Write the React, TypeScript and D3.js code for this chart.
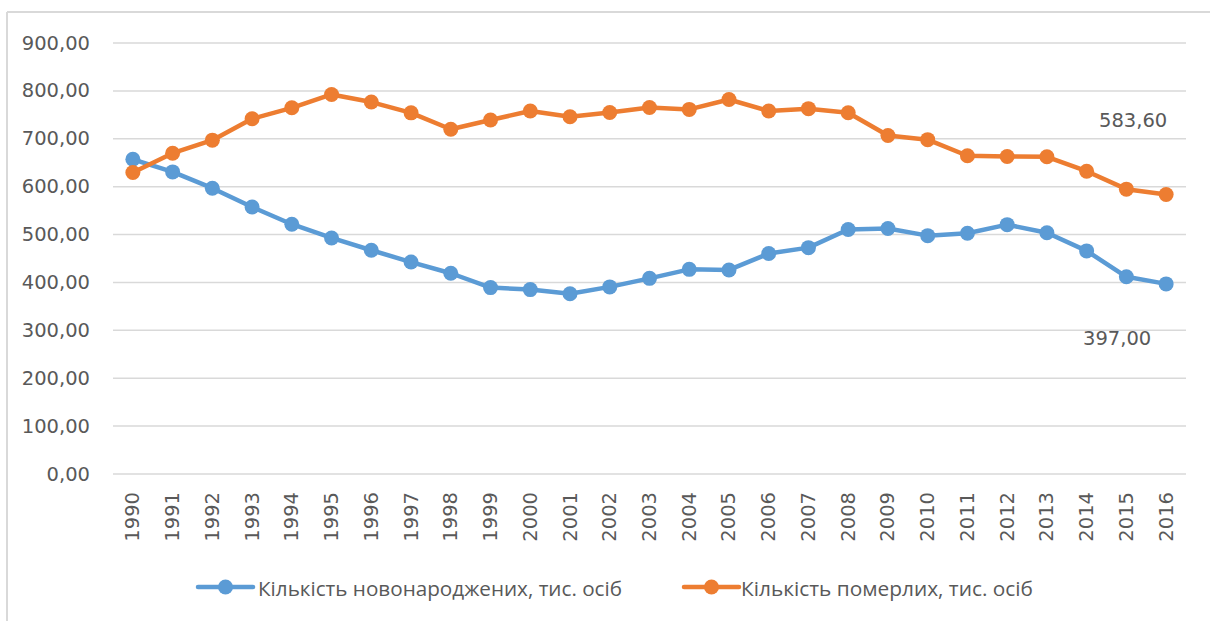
import React, { useEffect } from "react";
import * as d3 from "d3";

const years: string[] = [
  "1990","1991","1992","1993","1994","1995","1996","1997","1998","1999",
  "2000","2001","2002","2003","2004","2005","2006","2007","2008","2009",
  "2010","2011","2012","2013","2014","2015","2016",
];

const births: number[] = [
  657.2, 630.8, 596.8, 557.5, 521.6, 492.9, 467.2, 442.6, 419.2, 389.2,
  385.1, 376.5, 390.7, 408.6, 427.3, 426.1, 460.4, 472.7, 510.6, 512.5,
  497.7, 502.6, 520.7, 503.7, 465.9, 411.8, 397.0,
];

const deaths: number[] = [
  629.6, 669.9, 697.1, 741.7, 764.7, 792.6, 776.7, 754.2, 719.9, 739.2,
  758.1, 745.9, 754.9, 765.4, 761.3, 782.0, 758.1, 762.9, 754.5, 706.7,
  698.2, 664.6, 663.1, 662.4, 632.3, 594.8, 583.6,
];

const yTicks: number[] = [0, 100, 200, 300, 400, 500, 600, 700, 800, 900];

const seriesNames: string[] = [
  "Кількість новонароджених, тис. осіб",
  "Кількість померлих, тис. осіб",
];

const BLUE = "#5B9BD5";
const ORANGE = "#ED7D31";
const TEXT = "#595959";
const GRID = "#D9D9D9";

const fmt = (v: number) => v.toFixed(2).replace(".", ",");

export default function App() {
  useEffect(() => {
    document.body.style.margin = "0";
  }, []);

  const W = 1210;
  const H = 621;
  const x = d3.scaleBand<string>().domain(years).range([113, 1186]);
  const y = d3.scaleLinear().domain([0, 900]).range([474, 43]);
  const cx = (yr: string) => (x(yr) as number) + x.bandwidth() / 2;

  const line = d3
    .line<number>()
    .x((_, i) => cx(years[i]))
    .y((d) => y(d));

  const series = [
    { name: seriesNames[0], values: births, color: BLUE },
    { name: seriesNames[1], values: deaths, color: ORANGE },
  ];

  const last = years[years.length - 1];
  const numFont = "'DejaVu Sans', sans-serif";

  const legend = [
    { x0: 198, x1: 253, tx: 258, tw: 364 },
    { x0: 684, x1: 739, tx: 741, tw: 292 },
  ];

  return (
    <svg
      width={W}
      height={H}
      style={{ position: "absolute", left: 0, top: 0, background: "#fff" }}
    >
      <rect x={0} y={0} width={W} height={H} fill="#fff" />
      {/* chart area border (top & left visible) */}
      <line x1={7} x2={W} y1={12} y2={12} stroke={GRID} strokeWidth={2} />
      <line x1={7} x2={7} y1={12} y2={H} stroke={GRID} strokeWidth={2} />

      {/* gridlines and y labels */}
      {yTicks.map((t) => (
        <g key={t}>
          <line
            x1={113}
            x2={1186}
            y1={y(t)}
            y2={y(t)}
            stroke={GRID}
            strokeWidth={1.5}
          />
          <text
            x={90}
            y={y(t)}
            textAnchor="end"
            dominantBaseline="central"
            fontFamily={numFont}
            fontSize={19.5}
            fill={TEXT}
          >
            {fmt(t)}
          </text>
        </g>
      ))}

      {/* x labels */}
      {years.map((yr) => (
        <text
          key={yr}
          transform={`translate(${cx(yr)},492) rotate(-90)`}
          textAnchor="end"
          dominantBaseline="central"
          fontFamily={numFont}
          fontSize={19.5}
          fill={TEXT}
        >
          {yr}
        </text>
      ))}

      {/* series */}
      {series.map((s) => (
        <g key={s.name}>
          <path
            d={line(s.values) || ""}
            fill="none"
            stroke={s.color}
            strokeWidth={4.5}
            strokeLinejoin="round"
          />
          {s.values.map((v, i) => (
            <circle key={i} cx={cx(years[i])} cy={y(v)} r={7.5} fill={s.color} />
          ))}
        </g>
      ))}

      {/* data labels */}
      <text
        x={cx(last) - 33}
        y={y(deaths[deaths.length - 1]) - 74}
        textAnchor="middle"
        dominantBaseline="central"
        fontFamily={numFont}
        fontSize={19.5}
        fill={TEXT}
      >
        {fmt(deaths[deaths.length - 1])}
      </text>
      <text
        x={cx(last) - 49}
        y={y(births[births.length - 1]) + 55}
        textAnchor="middle"
        dominantBaseline="central"
        fontFamily={numFont}
        fontSize={19.5}
        fill={TEXT}
      >
        {fmt(births[births.length - 1])}
      </text>

      {/* legend */}
      {series.map((s, i) => {
        const L = legend[i];
        return (
          <g key={s.name}>
            <line
              x1={L.x0}
              x2={L.x1}
              y1={587}
              y2={587}
              stroke={s.color}
              strokeWidth={4.5}
              strokeLinecap="round"
            />
            <circle cx={(L.x0 + L.x1) / 2} cy={587} r={7.5} fill={s.color} />
            <text
              x={L.tx}
              y={588}
              dominantBaseline="central"
              fontFamily="'Open Sans', sans-serif"
              fontSize={20}
              fill={TEXT}
              textLength={L.tw}
              lengthAdjust="spacingAndGlyphs"
            >
              {s.name}
            </text>
          </g>
        );
      })}
    </svg>
  );
}
